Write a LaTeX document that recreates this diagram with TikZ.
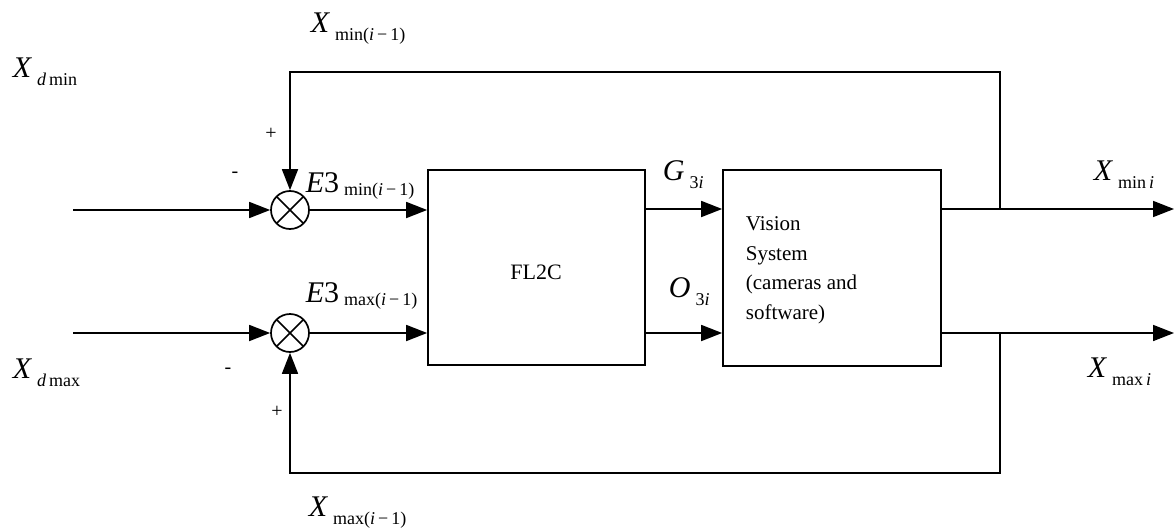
\documentclass[tikz,border=0pt]{standalone}
\usepackage{fontspec}
\setmainfont{Liberation Serif}
\usetikzlibrary{arrows.meta,calc}
\newcommand{\bigX}[1]{\fontsize{30}{30}\selectfont\textit{#1}}
\newcommand{\subtx}[2][8pt]{\,\raisebox{-#1}{\fontsize{18}{18}\selectfont #2}}
\begin{document}
\begin{tikzpicture}[x=1pt,y=-1pt,
  line width=1.7pt,
  arr/.style={-{Triangle[length=21pt,width=16pt]}},
  sumnode/.style={circle,draw,minimum size=38pt,inner sep=0pt,
    path picture={\draw[line width=1.5pt] (path picture bounding box.north west)--(path picture bounding box.south east)
      (path picture bounding box.north east)--(path picture bounding box.south west);}},
  blockbox/.style={draw,rectangle,inner sep=0pt},
  lbl/.style={anchor=base west,inner sep=0pt},
  sgn/.style={inner sep=0pt,font=\fontsize{20}{20}\selectfont}]
\useasboundingbox (0,0) rectangle (1174,532);

% blocks
\node[sumnode] (s1) at (290,210) {};
\node[sumnode] (s2) at (290,333) {};
\node[blockbox,minimum width=217pt,minimum height=195pt] (fl) at (536.5,267.5) {};
\node[font=\fontsize{22}{22}\selectfont] (fltxt) at (536,272) {FL2C};
\node[blockbox,minimum width=218pt,minimum height=196pt] (vs) at (832,268) {};
\node[anchor=north west,inner sep=0pt,align=left,font=\fontsize{21}{29.5}\selectfont] (vstxt) at (745,216) {Vision\\System\\(cameras and\\software)};

% coordinates
\coordinate (in1) at (73,210);
\coordinate (in2) at (73,333);
\coordinate (out1) at (1174,209);
\coordinate (out2) at (1174,333);
\coordinate (br1) at (1000,209);
\coordinate (br2) at (1000,333);
\coordinate (tp1) at (1000,72);
\coordinate (tp2) at (290,72);
\coordinate (bt1) at (1000,473);
\coordinate (bt2) at (290,473);

% connectors
\draw[arr] (in1) -- (s1.west);
\draw[arr] (in2) -- (s2.west);
\draw[arr] (s1.east) -- (s1.east -| fl.west);
\draw[arr] (s2.east) -- (s2.east -| fl.west);
\draw[arr] (fl.east |- br1) -- (vs.west |- br1);
\draw[arr] (fl.east |- br2) -- (vs.west |- br2);
\draw[arr] (vs.east |- br1) -- (out1);
\draw[arr] (vs.east |- br2) -- (out2);
\draw[arr] (br1) -- (tp1) -- (tp2) -- (s1.north);
\draw[arr] (br2) -- (bt1) -- (bt2) -- (s2.south);

% labels
\node[lbl] (l1) at (310,33) {\bigX{X}\subtx{min(\textit{i}\,−\,1)}};
\node[lbl] (l2) at (12,78) {\bigX{X}\subtx{\textit{d}\,min}};
\node[lbl] (l3) at (305,192) {\bigX{E}{\fontsize{30}{30}\selectfont 3}\subtx[3pt]{min(\textit{i}\,−\,1)}};
\node[lbl] (l4) at (305,302) {\bigX{E}{\fontsize{30}{30}\selectfont 3}\subtx[3pt]{max(\textit{i}\,−\,1)}};
\node[lbl] (l5) at (12,378) {\bigX{X}\subtx{\textit{d}\,max}};
\node[lbl] (l6) at (308,516) {\bigX{X}\subtx{max(\textit{i}\,−\,1)}};
\node[lbl] (l7) at (662,180) {\bigX{G}\subtx{3\textit{i}}};
\node[lbl] (l8) at (668,297) {\bigX{O}\subtx{3\textit{i}}};
\node[lbl] (l9) at (1093,180) {\bigX{X}\subtx{min\,\textit{i}}};
\node[lbl] (l10) at (1087,377) {\bigX{X}\subtx{max\,\textit{i}}};
\node[sgn] (m1) at (235,175) {-};
\node[sgn] (p1) at (271,134) {+};
\node[sgn] (m2) at (228,371) {-};
\node[sgn] (p2) at (277,412) {+};
\end{tikzpicture}
\end{document}
